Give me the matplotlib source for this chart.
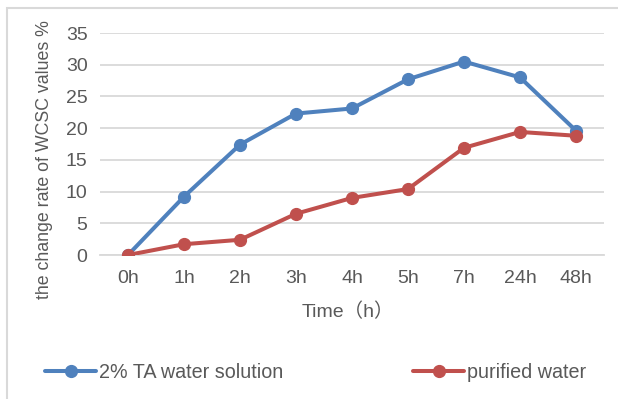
import matplotlib.pyplot as plt
from matplotlib.patches import Rectangle

# Dados
times = ["0h", "1h", "2h", "3h", "4h", "5h", "7h", "24h", "48h"]
ta_solution = [0, 9.2, 17.4, 22.3, 23.1, 27.7, 30.5, 28.0, 19.6]
purified = [0, 1.7, 2.4, 6.5, 9.0, 10.4, 16.9, 19.4, 18.8]

BLUE = "#4F81BD"
RED = "#C0504D"
GRAY_TXT = "#595959"
GRID = "#D9D9D9"

plt.rcParams["font.family"] = ["Liberation Sans", "Noto Sans CJK SC"]

W, H = 618, 399
fig = plt.figure(figsize=(W / 100, H / 100), dpi=100)

# Moldura externa
fig.patches.append(Rectangle((7 / W, -0.1), 1.2, (H - 8) / H + 0.1, transform=fig.transFigure,
                             fill=False, edgecolor=GRID, linewidth=1.5))

ax = fig.add_axes([100 / W, (H - 255) / H, 504 / W, 222 / H])

x = list(range(len(times)))
ax.plot(x, ta_solution, color=BLUE, linewidth=2.9, marker="o", markersize=8.5,
        label="2% TA water solution", solid_capstyle="round", zorder=3)
ax.plot(x, purified, color=RED, linewidth=2.9, marker="o", markersize=8.5,
        label="purified water", solid_capstyle="round", zorder=3)

ax.set_xlim(-0.5, len(times) - 0.5)
ax.set_ylim(0, 35)
ax.set_yticks(range(0, 36, 5))
ax.set_xticks(x)
ax.set_xticklabels(times)
ax.grid(axis="y", color=GRID, linewidth=1.3)
ax.set_axisbelow(True)
for s in ["top", "right", "left"]:
    ax.spines[s].set_visible(False)
ax.spines["bottom"].set_color(GRID)
ax.spines["bottom"].set_linewidth(1.3)
ax.tick_params(length=0, labelsize=14, colors=GRAY_TXT)
ax.tick_params(axis="y", pad=9)
ax.tick_params(axis="x", pad=11)

fig.text(348 / W, 1 - 312 / H, "Time（h）", ha="center", va="center", fontsize=14, color=GRAY_TXT)
fig.text(45 / W, 1 - 160 / H, "the change rate of WCSC values %", rotation=90,
         ha="center", va="center", fontsize=12.8, color=GRAY_TXT)

h1, h2 = ax.get_lines()
for h, lx in [(h1, 45), (h2, 413)]:
    fig.legend([h], [h.get_label()], loc="center left", bbox_to_anchor=(lx / W, 1 - 372 / H),
               frameon=False, fontsize=14.2, labelcolor=GRAY_TXT, handlelength=2.6,
               handletextpad=0.15, borderpad=0, borderaxespad=0)

fig.savefig("out.png", dpi=100)
